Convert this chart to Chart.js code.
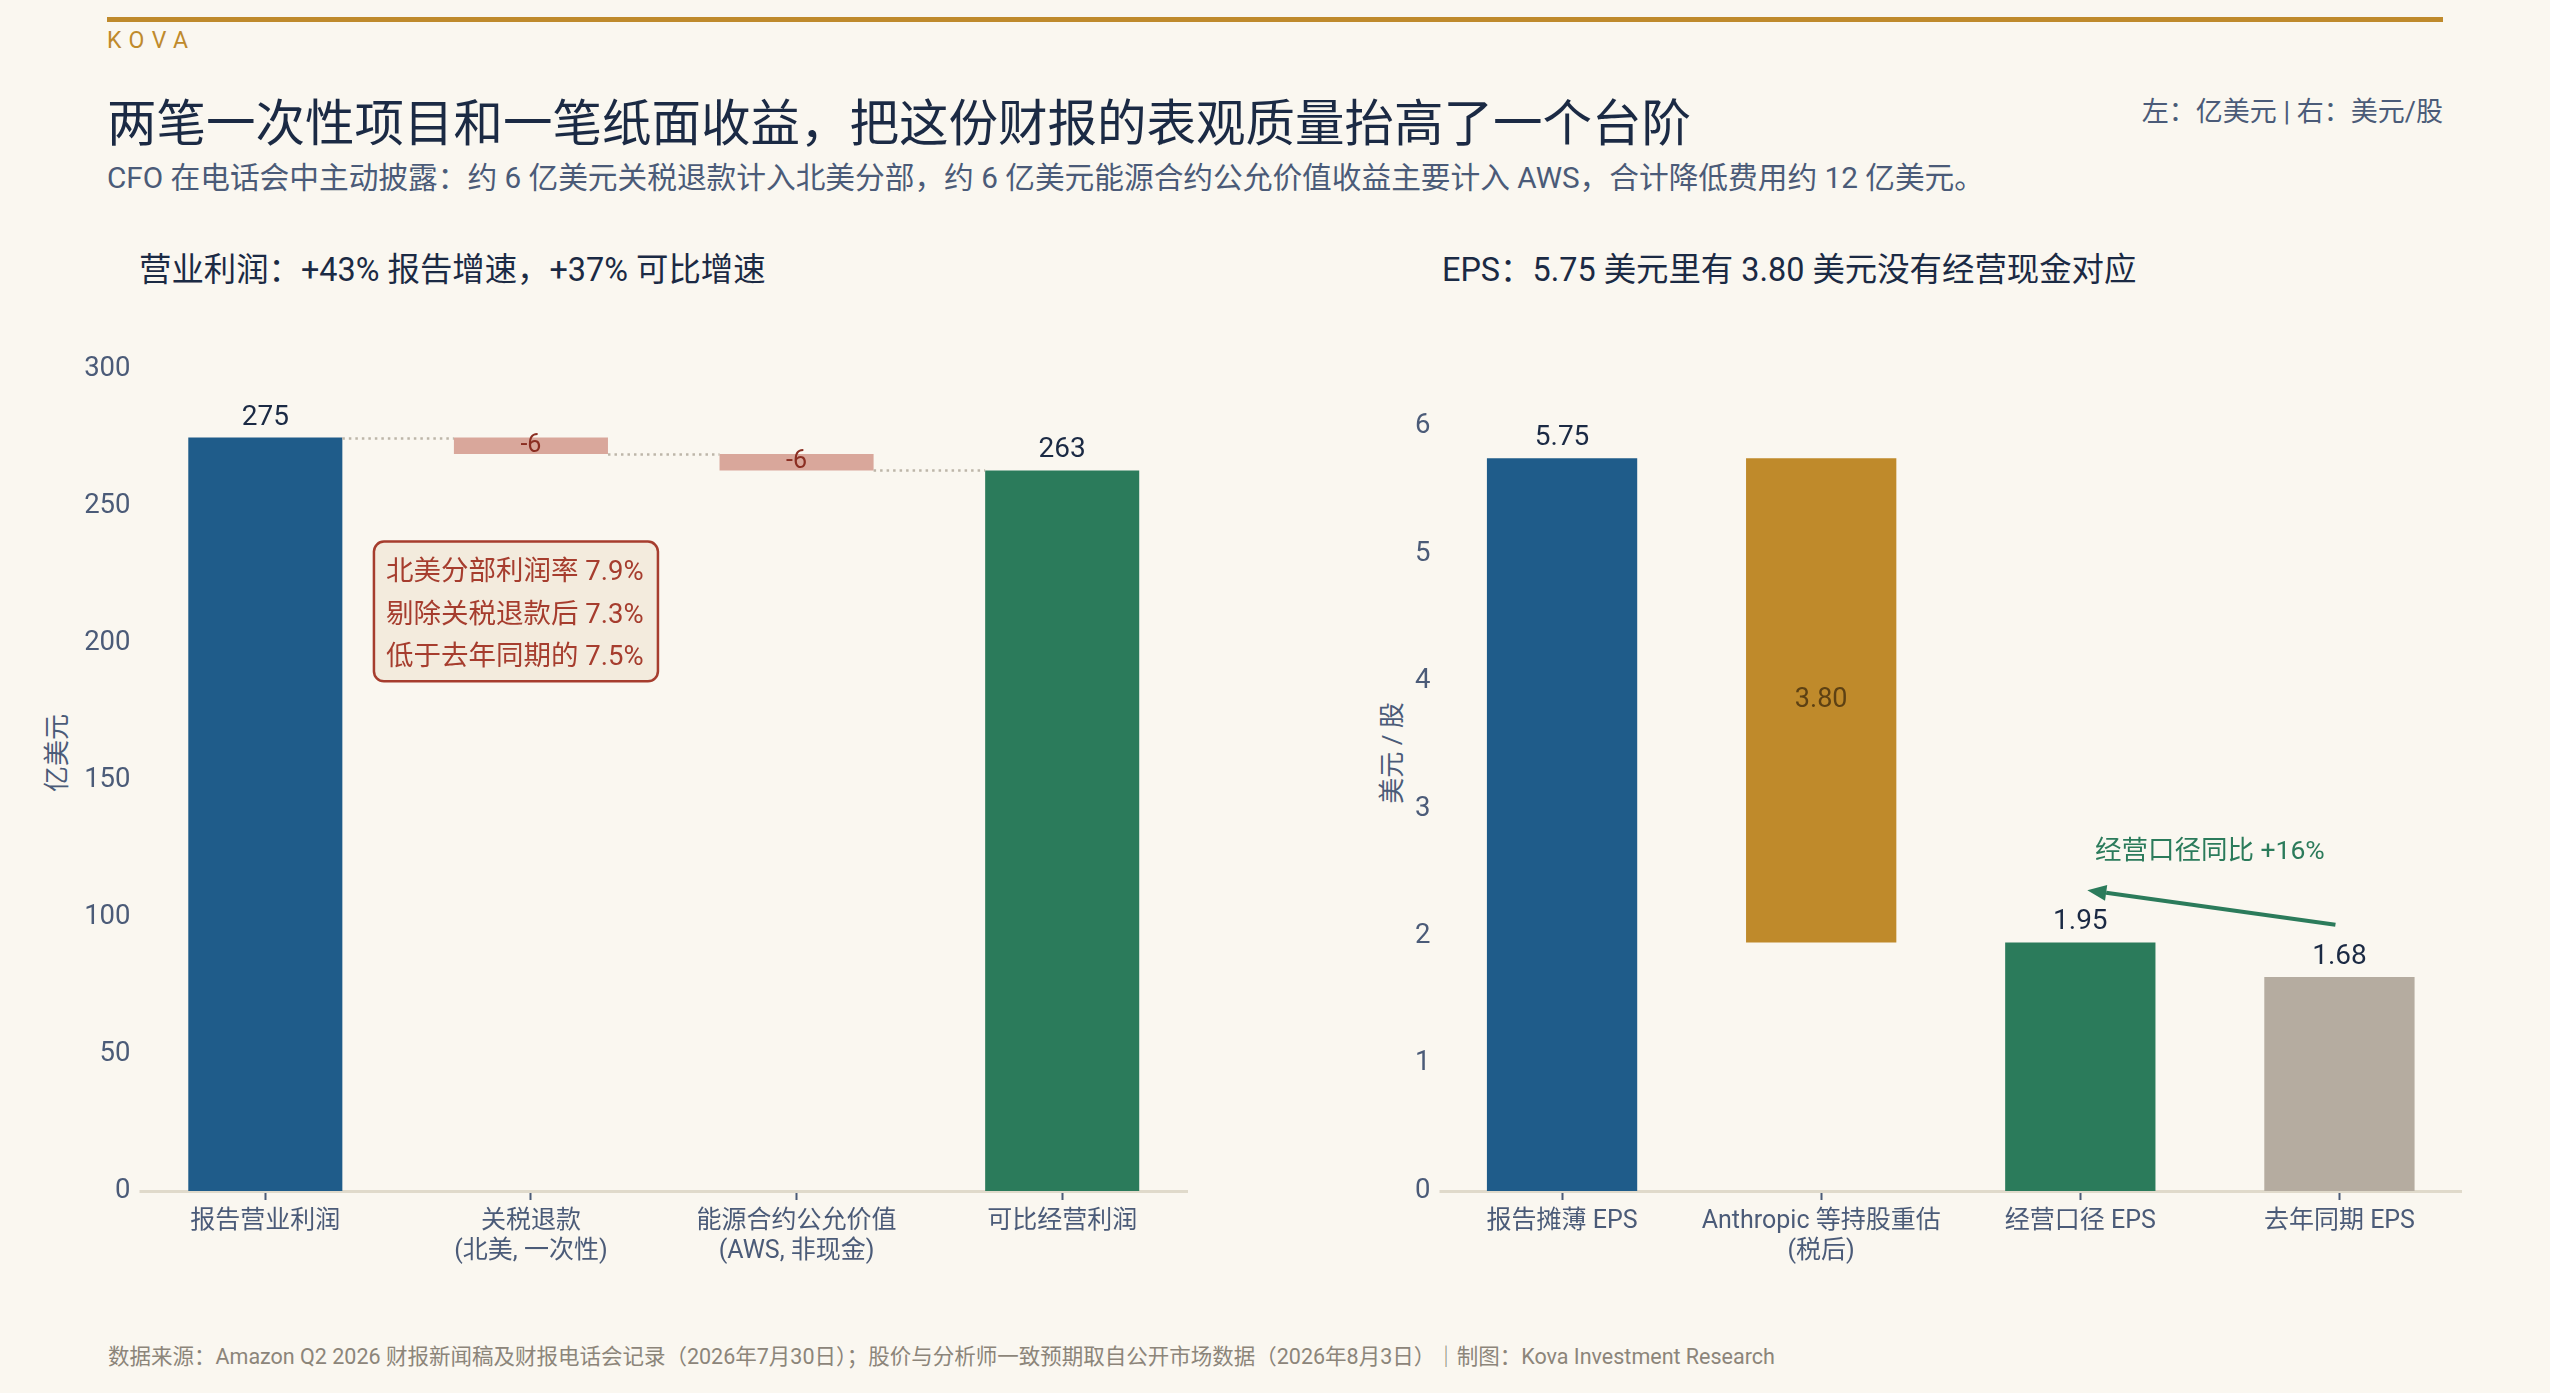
<!DOCTYPE html>
<html>
<head>
<meta charset="utf-8">
<script src="https://cdn.jsdelivr.net/npm/chart.js@4.4.1/dist/chart.umd.min.js"></script>
<style>
html,body{margin:0;padding:0;background:#FAF7F0;}
body{width:2550px;height:1393px;position:relative;overflow:hidden;font-family:Roboto,"Noto Sans CJK SC",sans-serif;}
.abs{position:absolute;white-space:nowrap;}
#rule{left:107px;top:17px;width:2336px;height:5px;background:#BF8A2C;}
#brand{left:107px;top:29px;font-size:23px;line-height:23px;letter-spacing:7.5px;color:#BF8A2C;}
#title{left:107px;top:99px;font-size:49.5px;line-height:50px;color:#1B2A44;}
#subtitle{left:107px;top:163px;font-size:29.7px;line-height:30px;color:#4B5B78;}
#units{right:107px;top:99px;font-size:27px;line-height:26px;color:#4B5B78;}
.ptitle{top:254px;font-size:32.4px;line-height:32px;color:#1B2A44;}
#pt1{left:139px;}
#pt2{left:1442px;}
.ytitle{font-size:26px;line-height:26px;color:#4B5B78;transform:translate(-50%,-50%) rotate(-90deg);}
#yt1{left:57px;top:753px;}
#yt2{left:1392px;top:753px;}
#footer{left:108px;top:1346px;font-size:21.5px;line-height:21px;color:#8C857A;}
#c1wrap{left:0px;top:300px;width:1195px;height:1000px;}
#c2wrap{left:1300px;top:300px;width:1169px;height:1000px;}
</style>
</head>
<body>
<div class="abs" id="rule"></div>
<div class="abs" id="brand">KOVA</div>
<div class="abs" id="title">两笔一次性项目和一笔纸面收益，把这份财报的表观质量抬高了一个台阶</div>
<div class="abs" id="subtitle">CFO 在电话会中主动披露：约 6 亿美元关税退款计入北美分部，约 6 亿美元能源合约公允价值收益主要计入 AWS，合计降低费用约 12 亿美元。</div>
<div class="abs" id="units">左：亿美元 | 右：美元/股</div>
<div class="abs ptitle" id="pt1">营业利润：+43% 报告增速，+37% 可比增速</div>
<div class="abs ptitle" id="pt2">EPS：5.75 美元里有 3.80 美元没有经营现金对应</div>
<div class="abs ytitle" id="yt1">亿美元</div>
<div class="abs ytitle" id="yt2">美元 / 股</div>
<div class="abs" id="c1wrap"><canvas id="c1"></canvas></div>
<div class="abs" id="c2wrap"><canvas id="c2"></canvas></div>
<div class="abs" id="footer">数据来源：Amazon Q2 2026 财报新闻稿及财报电话会记录（2026年7月30日）；股价与分析师一致预期取自公开市场数据（2026年8月3日）｜制图：Kova Investment Research</div>

<script>
// ---------- data ----------
const opCategories = [['报告营业利润'], ['关税退款', '(北美, 一次性)'], ['能源合约公允价值', '(AWS, 非现金)'], ['可比经营利润']];
const opValues = [275, -6, -6, 263];
const opKinds = ['total', 'delta', 'delta', 'total'];
const opTicks = [0, 50, 100, 150, 200, 250, 300];
const opMax = 300;
const noteLines = ['北美分部利润率 7.9%', '剔除关税退款后 7.3%', '低于去年同期的 7.5%'];

const epsCategories = [['报告摊薄 EPS'], ['Anthropic 等持股重估', '(税后)'], ['经营口径 EPS'], ['去年同期 EPS']];
const epsValues = [5.75, 3.80, 1.95, 1.68];
const epsKinds = ['total', 'less', 'total', 'total'];
const epsTicks = [0, 1, 2, 3, 4, 5, 6];
const epsMax = 6.45;
const yoyNote = '经营口径同比 +16%';

// ---------- styles ----------
const FONT = 'Roboto, "Noto Sans CJK SC", sans-serif';
const SLATE = '#4B5B78';
const NAVY = '#1B2A44';
const AXIS = '#E0DACB';
const opColors = ['#1F5C8A', '#D9A79B', '#D9A79B', '#2B7B5B'];
const epsColors = ['#1F5C8A', '#BF8A2B', '#2B7B5B', '#B5ACA0'];
Chart.defaults.font.family = FONT;

// ---------- derived floating ranges ----------
const opFloat = [], opRun = [];
let run = 0;
opValues.forEach((v, i) => {
  if (opKinds[i] === 'total') { opFloat.push([0, v]); run = v; }
  else { opFloat.push([run + v, run]); run += v; }
  opRun.push(run);
});
const epsFloat = [];
let er = 0;
epsValues.forEach((v, i) => {
  if (epsKinds[i] === 'total') { epsFloat.push([0, v]); er = v; }
  else { epsFloat.push([er - v, er]); er -= v; }
});

function xScaleOpts() {
  return {
    grid: { display: true, drawOnChartArea: false, drawTicks: true, tickLength: 9, tickColor: SLATE, tickWidth: 2, offset: false },
    border: { display: false },
    ticks: { padding: 7, color: SLATE, font: { size: 25 }, maxRotation: 0, minRotation: 0, autoSkip: false },
    afterFit: s => { s.height = 109; }
  };
}
function yScaleOpts(max, ticks) {
  return {
    min: 0, max: max,
    afterBuildTicks: s => { s.ticks = ticks.map(v => ({ value: v })); },
    grid: { display: false, drawTicks: false, tickLength: 0 },
    border: { display: false },
    ticks: { padding: 2, color: SLATE, font: { size: 27.5, lineHeight: 1.0 } },
    afterFit: s => { s.width = 132.5; }
  };
}

// axis baseline drawn slightly inset from the chart area edges
const baseline = {
  id: 'baseline',
  beforeDatasetsDraw(chart) {
    const { ctx, chartArea } = chart;
    ctx.save();
    ctx.strokeStyle = AXIS; ctx.lineWidth = 3;
    ctx.beginPath();
    ctx.moveTo(chartArea.left + 7, chartArea.bottom + 0.5);
    ctx.lineTo(chartArea.right - 7, chartArea.bottom + 0.5);
    ctx.stroke();
    ctx.restore();
  }
};

const opDecor = {
  id: 'opDecor',
  afterDatasetsDraw(chart) {
    const ctx = chart.ctx, meta = chart.getDatasetMeta(0), ys = chart.scales.y, xs = chart.scales.x;
    ctx.save();
    ctx.strokeStyle = '#BDB6A9'; ctx.lineWidth = 2.5; ctx.setLineDash([2.5, 4]);
    for (let i = 0; i < meta.data.length - 1; i++) {
      const a = meta.data[i], b = meta.data[i + 1];
      const yy = Math.round(ys.getPixelForValue(opRun[i])) + 0.5;
      ctx.beginPath(); ctx.moveTo(a.x + a.width / 2, yy); ctx.lineTo(b.x - b.width / 2, yy); ctx.stroke();
    }
    ctx.setLineDash([]);
    ctx.textAlign = 'center'; ctx.textBaseline = 'middle';
    meta.data.forEach((el, i) => {
      if (opKinds[i] === 'total') {
        ctx.fillStyle = NAVY; ctx.font = '28px ' + FONT;
        ctx.fillText(String(opValues[i]), el.x, el.y - 20);
      } else {
        ctx.fillStyle = '#8B2E22'; ctx.font = '25px ' + FONT;
        ctx.fillText(String(opValues[i]), el.x, (el.y + el.base) / 2);
      }
    });
    // note box
    const bl = xs.getPixelForValue(1) - 157, bw = 284;
    const bt = ys.getPixelForValue(237), bb = ys.getPixelForValue(186);
    ctx.beginPath(); ctx.roundRect(bl, bt, bw, bb - bt, 10);
    ctx.fillStyle = '#F3EBDD'; ctx.fill();
    ctx.strokeStyle = '#A63D2E'; ctx.lineWidth = 2.5; ctx.stroke();
    ctx.fillStyle = '#A63D2E'; ctx.font = '27.5px ' + FONT; ctx.textAlign = 'left';
    noteLines.forEach((t, i) => ctx.fillText(t, bl + 12, bt + 32 + i * 42.5));
    ctx.restore();
  }
};

const epsDecor = {
  id: 'epsDecor',
  afterDatasetsDraw(chart) {
    const ctx = chart.ctx, meta = chart.getDatasetMeta(0), ys = chart.scales.y;
    ctx.save();
    ctx.textAlign = 'center'; ctx.textBaseline = 'middle';
    meta.data.forEach((el, i) => {
      if (epsKinds[i] === 'total') {
        ctx.fillStyle = NAVY; ctx.font = '28px ' + FONT;
        ctx.fillText(epsValues[i].toFixed(2), el.x, el.y - 20);
      } else {
        ctx.fillStyle = 'rgba(75,52,15,0.85)'; ctx.font = '27px ' + FONT;
        ctx.fillText(epsValues[i].toFixed(2), el.x, (el.y + el.base) / 2);
      }
    });
    // yoy arrow from last bar to operating EPS bar
    const x2 = meta.data[2].x, x3 = meta.data[3].x;
    const sx = x3 - 4, sy = ys.getPixelForValue(epsValues[3] + 0.41);
    const ex = x2 + 7, ey = ys.getPixelForValue(epsValues[2] + 0.41);
    const ang = Math.atan2(ey - sy, ex - sx);
    const hl = 19, hw = 8;
    const bx = ex - hl * Math.cos(ang), by = ey - hl * Math.sin(ang);
    ctx.strokeStyle = '#2B7B5B'; ctx.fillStyle = '#2B7B5B'; ctx.lineWidth = 4;
    ctx.beginPath(); ctx.moveTo(sx, sy); ctx.lineTo(bx, by); ctx.stroke();
    ctx.beginPath(); ctx.moveTo(ex, ey);
    ctx.lineTo(bx + hw * Math.sin(ang), by - hw * Math.cos(ang));
    ctx.lineTo(bx - hw * Math.sin(ang), by + hw * Math.cos(ang));
    ctx.closePath(); ctx.fill();
    ctx.font = '26.5px ' + FONT;
    ctx.fillText(yoyNote, (x2 + x3) / 2, ys.getPixelForValue(2.66));
    ctx.restore();
  }
};

new Chart(document.getElementById('c1'), {
  type: 'bar',
  data: { labels: opCategories, datasets: [{ data: opFloat, backgroundColor: opColors, borderWidth: 0, barPercentage: 0.58, categoryPercentage: 1 }] },
  options: {
    responsive: true, maintainAspectRatio: false, animation: false,
    layout: { padding: { top: 69, left: 0, right: 0, bottom: 0 } },
    plugins: { legend: { display: false }, tooltip: { enabled: false } },
    scales: { x: xScaleOpts(), y: yScaleOpts(opMax, opTicks) }
  },
  plugins: [baseline, opDecor]
});

new Chart(document.getElementById('c2'), {
  type: 'bar',
  data: { labels: epsCategories, datasets: [{ data: epsFloat, backgroundColor: epsColors, borderWidth: 0, barPercentage: 0.58, categoryPercentage: 1 }] },
  options: {
    responsive: true, maintainAspectRatio: false, animation: false,
    layout: { padding: { top: 69, left: 0, right: 0, bottom: 0 } },
    plugins: { legend: { display: false }, tooltip: { enabled: false } },
    scales: { x: xScaleOpts(), y: yScaleOpts(epsMax, epsTicks) }
  },
  plugins: [baseline, epsDecor]
});
</script>
</body>
</html>
